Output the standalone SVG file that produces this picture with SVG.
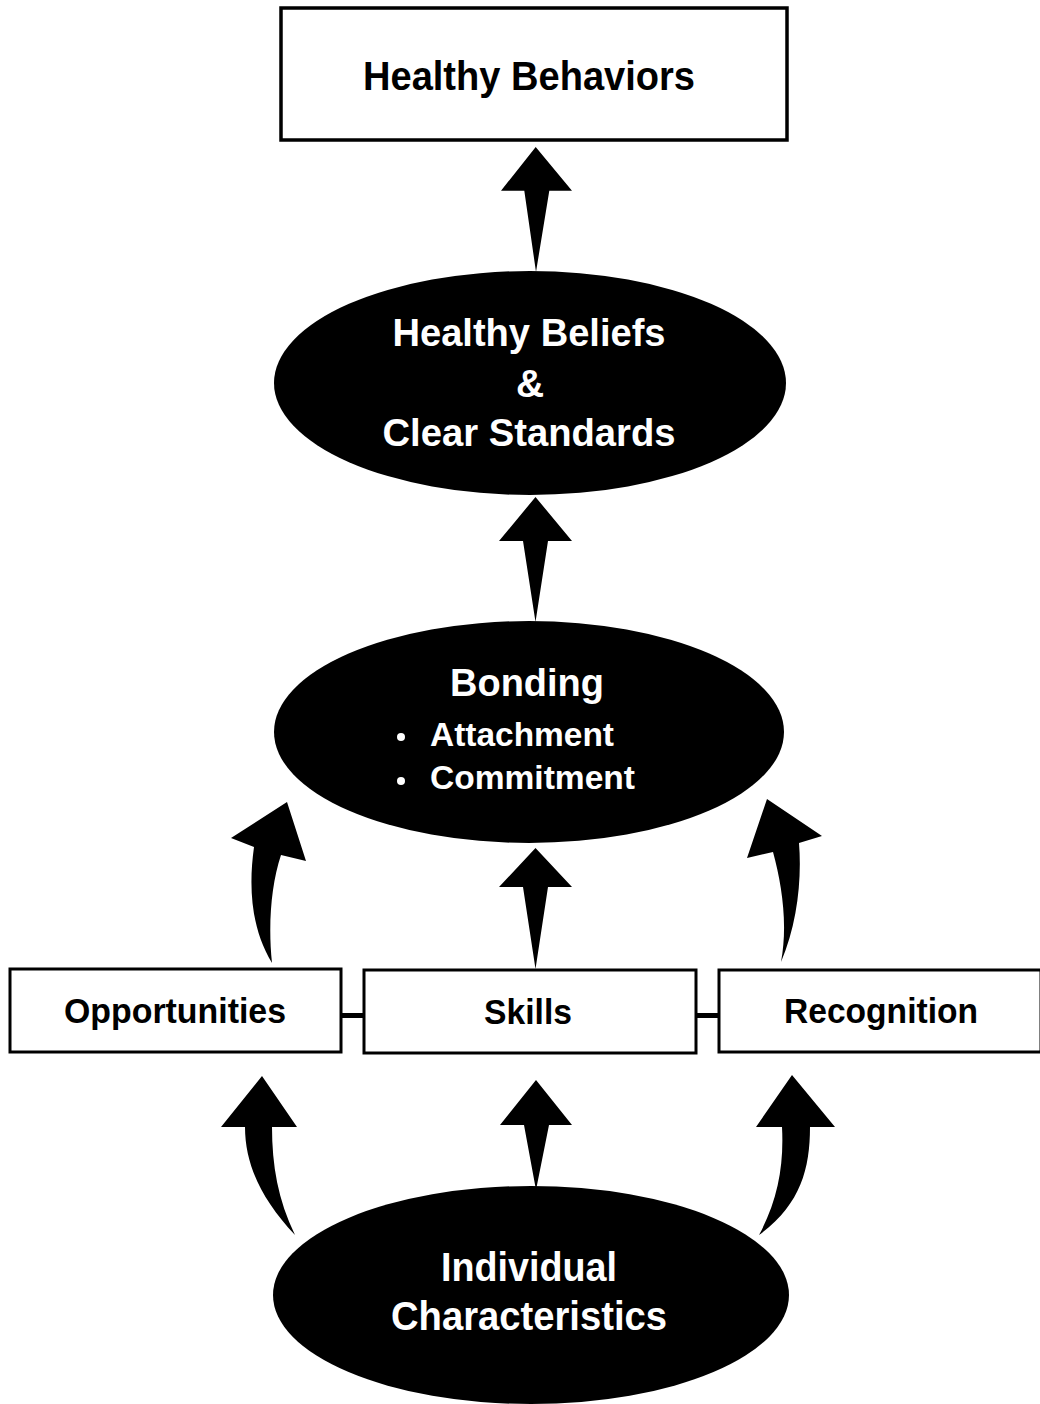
<svg xmlns="http://www.w3.org/2000/svg" width="1040" height="1404" viewBox="0 0 1040 1404">
  <style>
    .box { fill: #ffffff; stroke: #000000; stroke-width: 3; }
    .oval { fill: #000000; }
    .arrow { fill: #000000; }
    .link { stroke: #000000; stroke-width: 5; fill: none; }
    .dark { font-family: "Liberation Sans", Arial, Helvetica, sans-serif; font-weight: bold; fill: #000000; }
    .light { font-family: "Liberation Sans", Arial, Helvetica, sans-serif; font-weight: bold; fill: #ffffff; }
  </style>
  <rect width="1040" height="1404" fill="#ffffff"/>

  <!-- connectors -->
  <g id="connectors">
    <!-- beliefs to behaviors -->
    <path class="arrow" d="M535.7,147 L572,190.7 L549.3,190.7 L536,272 L524.3,190.7 L501,190.7 Z"/>
    <!-- bonding to beliefs -->
    <path class="arrow" d="M535.5,497 L572,541 L548,541 L535.5,622 L523,541 L499,541 Z"/>
    <!-- skills to bonding -->
    <path class="arrow" d="M535.5,848 L572,887 L548,887 L535.5,969 L523,887 L499,887 Z"/>
    <!-- opportunities to bonding -->
    <path class="arrow" d="M287,802 L306,861 L281,855 C271,885 268,925 272,963 C252,930 248,890 254,847 L231,838 Z"/>
    <!-- recognition to bonding -->
    <path class="arrow" d="M767,799 L822,836 L799,843 C802,880 797,925 781,962 C788,925 782,885 773,852 L747,858 Z"/>
    <!-- individual to skills -->
    <path class="arrow" d="M536,1080 L572,1125 L549,1125 L536,1190 L524,1125 L500,1125 Z"/>
    <!-- individual to opportunities -->
    <path class="arrow" d="M262,1076 L297,1127 L272,1127 C272,1165 278,1200 295,1235 C262,1200 245,1165 245,1127 L221,1127 Z"/>
    <!-- individual to recognition -->
    <path class="arrow" d="M792,1075 L835,1127 L810,1127 C810,1170 800,1205 759,1235 C778,1200 784,1165 782,1127 L756,1127 Z"/>
    <!-- links between the three middle boxes -->
    <line class="link" x1="341" y1="1015.5" x2="364" y2="1015.5"/>
    <line class="link" x1="696" y1="1015.5" x2="719" y2="1015.5"/>
  </g>

  <g id="healthy-behaviors">
    <rect x="281" y="8" width="506" height="132" fill="#ffffff" stroke="#000000" stroke-width="3.5"/>
    <text class="dark" x="529" y="90" font-size="40" text-anchor="middle" textLength="332" lengthAdjust="spacingAndGlyphs">Healthy Behaviors</text>
  </g>

  <g id="beliefs-standards">
    <ellipse class="oval" cx="530" cy="383" rx="256" ry="112"/>
    <text class="light" x="529" y="346" font-size="39" text-anchor="middle" textLength="273" lengthAdjust="spacingAndGlyphs">Healthy Beliefs</text>
    <text class="light" x="530" y="397" font-size="39" text-anchor="middle">&amp;</text>
    <text class="light" x="529" y="446" font-size="39" text-anchor="middle" textLength="293" lengthAdjust="spacingAndGlyphs">Clear Standards</text>
  </g>

  <g id="bonding">
    <ellipse class="oval" cx="529" cy="732" rx="255" ry="111"/>
    <text class="light" x="527" y="696" font-size="39" text-anchor="middle" textLength="154" lengthAdjust="spacingAndGlyphs">Bonding</text>
    <circle cx="401" cy="737" r="4" fill="#ffffff"/>
    <text class="light" x="430" y="746" font-size="34" textLength="184" lengthAdjust="spacingAndGlyphs">Attachment</text>
    <circle cx="401" cy="781" r="4" fill="#ffffff"/>
    <text class="light" x="430" y="789" font-size="34" textLength="205" lengthAdjust="spacingAndGlyphs">Commitment</text>
  </g>

  <g id="opportunities">
    <rect class="box" x="10" y="969" width="331" height="83"/>
    <text class="dark" x="175" y="1023" font-size="35" text-anchor="middle" textLength="222" lengthAdjust="spacingAndGlyphs">Opportunities</text>
  </g>

  <g id="skills">
    <rect class="box" x="364" y="970" width="332" height="83"/>
    <text class="dark" x="528" y="1024" font-size="35" text-anchor="middle" textLength="88" lengthAdjust="spacingAndGlyphs">Skills</text>
  </g>

  <g id="recognition">
    <rect class="box" x="719" y="970" width="322" height="82"/>
    <text class="dark" x="881" y="1023" font-size="35" text-anchor="middle" textLength="194" lengthAdjust="spacingAndGlyphs">Recognition</text>
  </g>

  <g id="individual-characteristics">
    <ellipse class="oval" cx="531" cy="1295" rx="258" ry="109"/>
    <text class="light" x="529" y="1281" font-size="40" text-anchor="middle" textLength="176" lengthAdjust="spacingAndGlyphs">Individual</text>
    <text class="light" x="529" y="1330" font-size="40" text-anchor="middle" textLength="276" lengthAdjust="spacingAndGlyphs">Characteristics</text>
  </g>
</svg>
